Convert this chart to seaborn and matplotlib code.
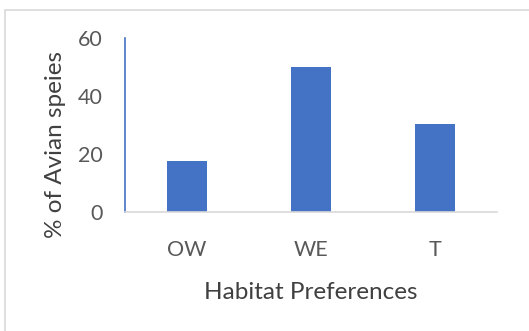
import matplotlib
matplotlib.use("Agg")
import matplotlib.pyplot as plt
import seaborn as sns
import pandas as pd
from matplotlib.patches import Rectangle

categories = ["OW", "WE", "T"]
values = [17.5, 50, 30.5]
y_ticks = [0, 20, 40, 60]

sns.set_theme(style="white")
plt.rcParams["font.family"] = ["Lato", "DejaVu Sans"]

df = pd.DataFrame({"habitat": categories, "pct": values})

fig = plt.figure(figsize=(5.29, 3.31), dpi=100)
ax = fig.add_axes([125 / 529, 1 - 212 / 331, (497 - 125) / 529, (212 - 38) / 331])

sns.barplot(data=df, x="habitat", y="pct", color="#4472C4", width=0.32,
            saturation=1, ax=ax, edgecolor="none")

ax.set_ylim(0, 60)
ax.set_xlim(-0.5, 2.5)
ax.set_yticks(y_ticks)
ax.set_yticklabels([str(t) for t in y_ticks])
ax.tick_params(axis="both", length=0, labelsize=15.5, labelcolor="#595959")
ax.tick_params(axis="x", pad=20)
ax.tick_params(axis="y", pad=16)

for side in ["top", "right"]:
    ax.spines[side].set_visible(False)
ax.spines["left"].set_color("#4472C4")
ax.spines["left"].set_linewidth(1.2)
ax.spines["bottom"].set_color("#D9D9D9")
ax.spines["bottom"].set_linewidth(1.2)

ax.set_xlabel("Habitat Preferences", fontsize=17.5, color="#404040", labelpad=16)
ax.set_ylabel("% of Avian speies", fontsize=17.5, color="#404040")
ax.yaxis.set_label_coords(-0.158, 0.39)

# chart area border
fig.patches.append(Rectangle((5 / 529, -0.01), 1.0, 1 - 10 / 331 + 0.01,
                             transform=fig.transFigure, fill=False,
                             edgecolor="#D9D9D9", linewidth=1.2))

fig.savefig("out.png", dpi=100)
